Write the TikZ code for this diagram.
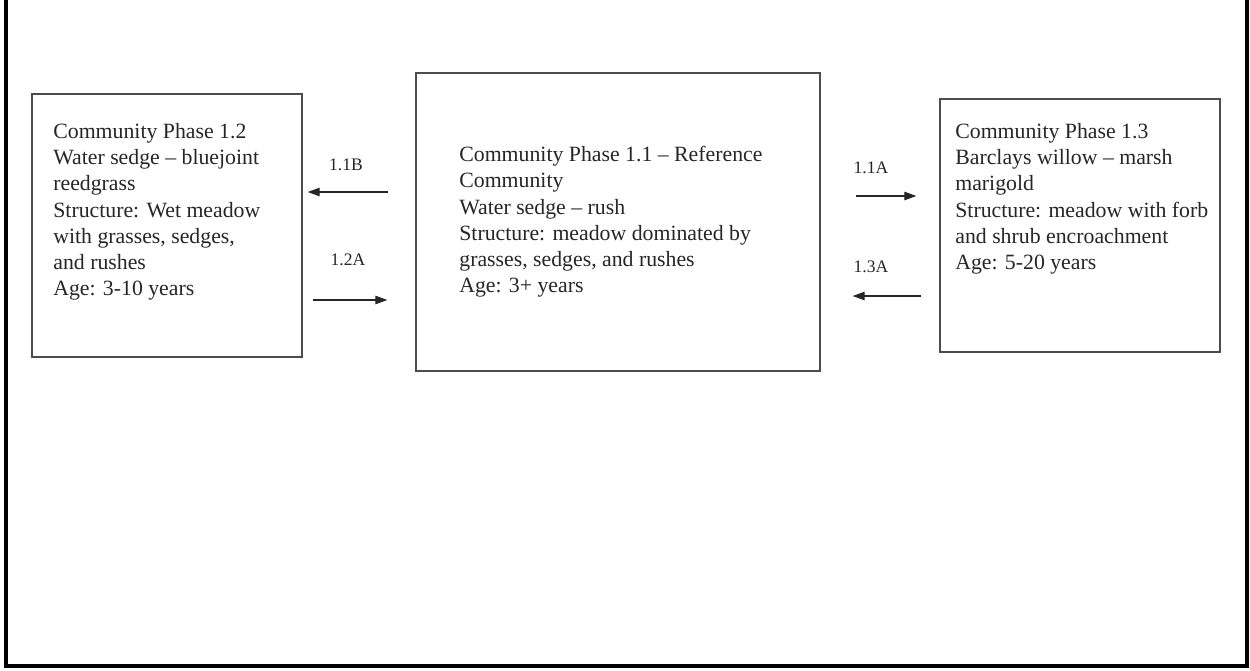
\documentclass[tikz,border=0pt]{standalone}
\usepackage{fontspec}
\setmainfont{Liberation Serif}
\usetikzlibrary{arrows.meta, positioning}

\begin{document}
\begin{tikzpicture}[x=0.02cm, y=-0.02cm,
      phase/.style={draw=black!70, line width=0.8pt, rectangle, inner sep=0pt},
      txt/.style={anchor=north west, align=left, inner sep=0pt, text=black!85,
                  font=\fontsize{12.4}{14.9}\selectfont},
      arr/.style={-{Triangle[length=2.4mm, width=1.7mm]}, line width=0.6pt, black!85},
      code/.style={font=\fontsize{10}{12}\selectfont, text=black!85}
    ]
    \useasboundingbox (0,0) rectangle (1250,670);

    % Rahmen
    \draw[line width=0.07cm] (6,0) -- (6,666) -- (1247,666) -- (1247,0);

    % Phasen
    \node[phase, minimum width=5.4cm,  minimum height=5.26cm] (p12) at (167,225.5) {};
    \node[phase, minimum width=8.08cm, minimum height=5.96cm] (p11) at (618,222)   {};
    \node[phase, minimum width=5.6cm,  minimum height=5.06cm] (p13) at (1080,225.5) {};

    \node[txt] (p12txt) at (53,123) {Community Phase 1.2\\Water sedge -- bluejoint\\reedgrass\\
      Structure: Wet meadow\\with grasses, sedges,\\and rushes\\Age: 3-10 years};
    \node[txt] (p11txt) at (459,146) {Community Phase 1.1 -- Reference\\Community\\Water sedge -- rush\\
      Structure: meadow dominated by\\grasses, sedges, and rushes\\Age: 3+ years};
    \node[txt] (p13txt) at (955,123) {Community Phase 1.3\\Barclays willow -- marsh\\marigold\\
      Structure: meadow with forb\\and shrub encroachment\\Age: 5-20 years};

    % Übergänge
    \draw[arr, shorten <=0.54cm, shorten >=0.1cm] (p11.west |- 0,192) --
      node[code, xshift=-0.26cm, yshift=0.54cm]{1.1B} (p12.east |- 0,192);
    \draw[arr, shorten <=0.2cm, shorten >=0.56cm] (p12.east |- 0,300) --
      node[code, xshift=-0.22cm, yshift=0.8cm]{1.2A} (p11.west |- 0,300);
    \draw[arr, shorten <=0.7cm, shorten >=0.46cm] (p11.east |- 0,196) --
      node[code, xshift=-0.18cm, yshift=0.56cm]{1.1A} (p13.west |- 0,196);
    \draw[arr, shorten <=0.36cm, shorten >=0.64cm] (p13.west |- 0,296) --
      node[code, xshift=-0.18cm, yshift=0.58cm]{1.3A} (p11.east |- 0,296);
  \end{tikzpicture}
\end{document}
